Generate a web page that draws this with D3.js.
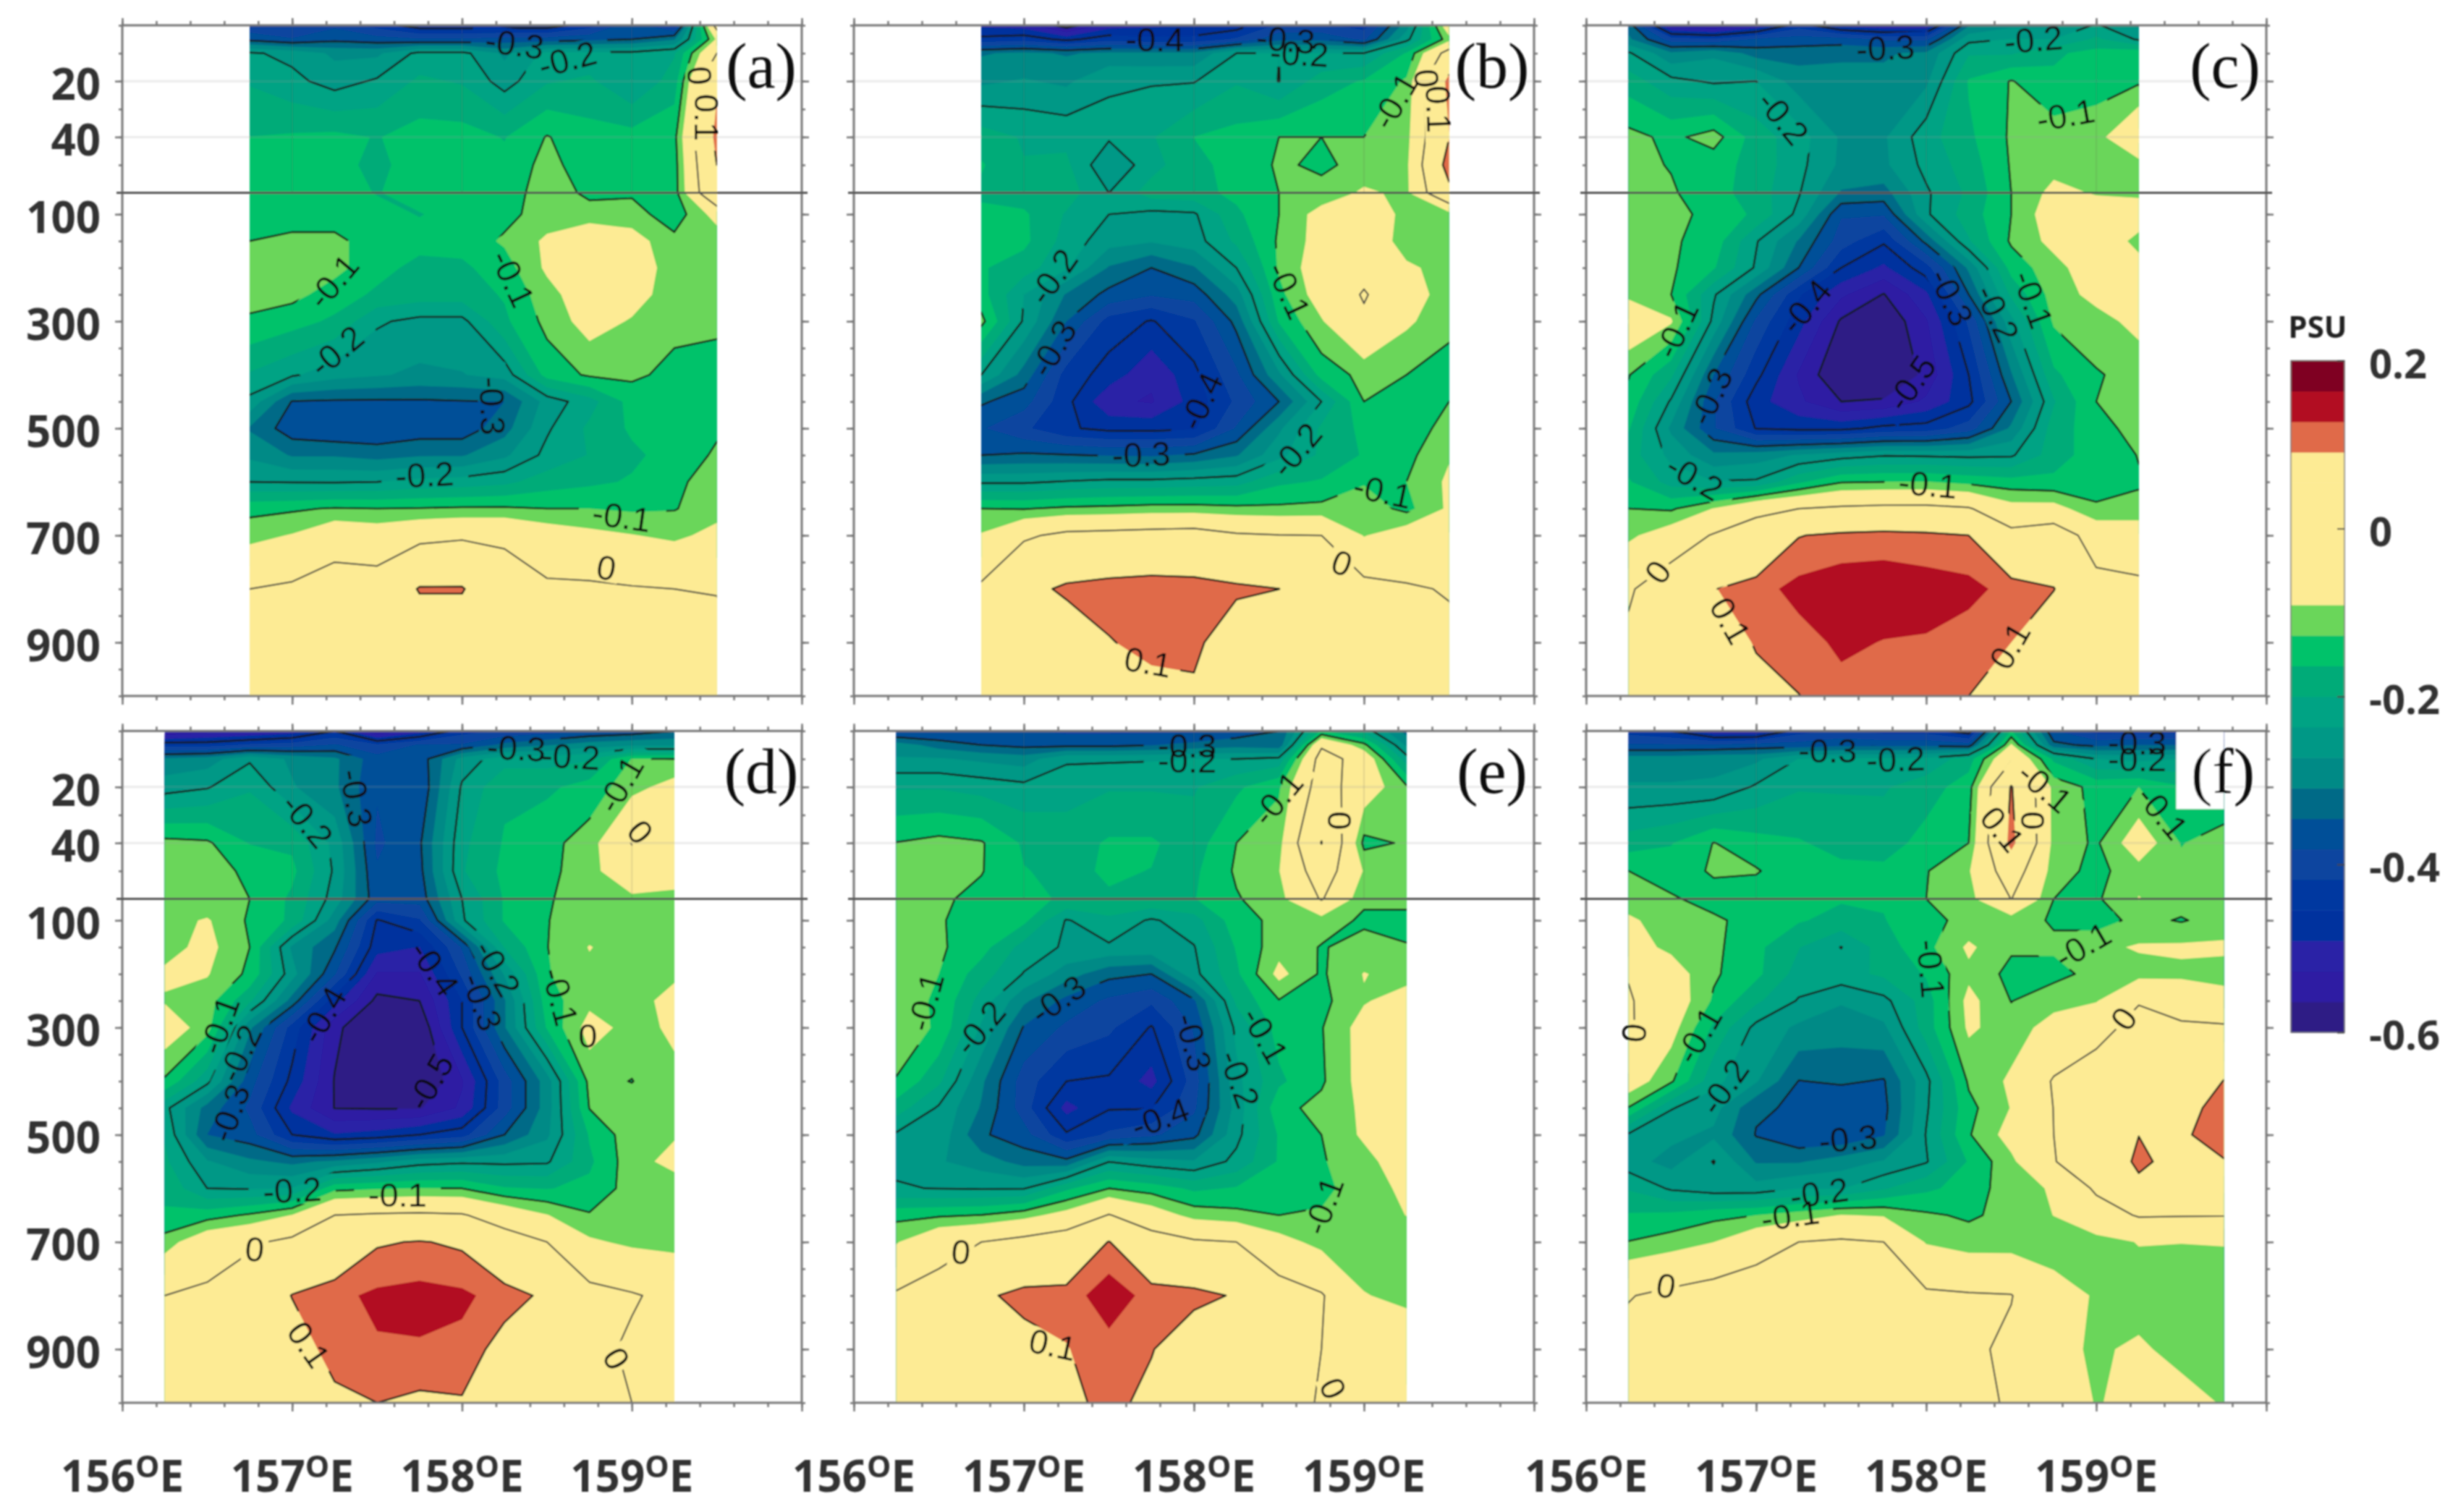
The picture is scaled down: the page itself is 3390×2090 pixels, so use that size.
<!DOCTYPE html>
<html>
<head>
<meta charset="utf-8">
<style>
  html, body { margin: 0; background: #fff; }
  svg { display: block; }
</style>
<script src="https://cdn.jsdelivr.net/npm/d3@7"></script>
</head>
<body>
<svg></svg>
<script>
// salinity anomaly in 0.01 PSU, one row per depth
var depths = [0, 5, 10, 20, 40, 50, 60, 100, 150, 200, 250, 300, 400, 450, 500, 550, 600, 650, 700, 800, 900, 1000];
var lonsAB = [156.75, 157, 157.25, 157.5, 157.75, 158, 158.25, 158.5, 158.75, 159, 159.25, 159.5];
var lonsCDE = [156.25, 156.5, 156.75, 157, 157.25, 157.5, 157.75, 158, 158.25, 158.5, 158.75, 159, 159.25];
var lonsF = [156.25, 156.5, 156.75, 157, 157.25, 157.5, 157.75, 158, 158.25, 158.5, 158.75, 159, 159.25, 159.5, 159.75];

var panelA = [
  [-36,-37,-34,-38,-42,-42,-42,-42,-38,-31,-38,3],
  [-31,-33,-31,-32,-33,-33,-32,-32,-31,-30,-27,-6],
  [-19.5,-21,-24,-24,-19,-19,-24,-19,-19,-19,-17,0],
  [-17,-19,-21.5,-19.5,-16,-17,-21.5,-17,-16,-20,-15,9],
  [-13.3,-12.9,-12.5,-13.5,-12,-12,-13.5,-9.8,-12,-12,-11,12],
  [-13,-12.8,-12.5,-14,-12,-12,-12.5,-8.8,-12,-12,-11.5,10],
  [-12,-12.5,-12,-13.5,-12,-12,-12,-8,-10.8,-10.5,-11.5,8],
  [-11.5,-12,-12,-12.2,-13.5,-12,-11,-8.5,-8.5,-8.5,-12,-5],
  [-10,-9,-9,-12,-12,-12,-9.5,-6,-3,-5,-9,-9],
  [-8.5,-8.5,-9,-12,-14.5,-14,-11.5,-6,-3,-4,-8.5,-8.5],
  [-8.8,-9,-11.5,-14,-15,-15,-13,-8,-4,-5,-8.5,-8.5],
  [-10.5,-12,-14,-19.5,-21,-21,-14,-9,-5,-7,-9,-9],
  [-17,-19.5,-22,-23,-24,-23.5,-22,-12,-9.5,-9.3,-11,-12],
  [-21,-30.2,-30.5,-30.5,-30.5,-30.2,-30,-22,-18,-12,-12,-12],
  [-27,-32,-33,-33,-32,-32,-28,-20.5,-16,-12.8,-12,-10.5],
  [-24,-27,-27,-28,-27,-27,-24,-19,-16.5,-14,-12,-9.5],
  [-20,-20.2,-20.3,-20,-19,-18.5,-17.5,-15,-14,-13,-10.7,-8.5],
  [-11,-10.5,-9.7,-10,-9.8,-9.5,-9.5,-10,-10,-10.5,-10.2,-8],
  [-8,-6.4,-3,-4,-2,-1,-1,-4,-5.5,-6.5,-7.5,-5.5],
  [0,1,3,3,10.5,10.5,3,1,1,0.4,0,-0.3],
  [2,3,4,4,5,5,4,3,3,3,2,2],
  [3,3,3,3,3,3,3,3,3,3,3,3]
];
var panelB = [
  [-44,-45,-52,-45,-44,-43,-42,-36,-36,-38,-25,-3],
  [-39,-38,-41,-38,-39,-39,-36,-31,-31,-34,-21,-8],
  [-27,-26,-27,-26,-26,-26,-20,-20,-20,-20,-13,3],
  [-24,-23,-24,-20.2,-20.3,-20.2,-17,-20.1,-15,-13,-9.5,12],
  [-15,-17,-17.5,-19.5,-17,-13.3,-12.2,-10,-10,-10,-8,9.8],
  [-13,-16.5,-16,-23,-18,-14,-12.5,-9.5,-10.6,-9,-7.5,13],
  [-14,-15,-15,-20,-15,-14.5,-12.5,-10,-9,-6,-7.5,8],
  [-12.5,-12.8,-17,-20,-21,-20.5,-14,-10,-5,-3,-8,-8.5],
  [-12,-12.5,-18,-22,-23,-21.5,-16,-9.5,-5,-3,-8.5,-8.5],
  [-13,-15,-19.5,-27,-30,-27,-20,-9.5,-4,-2,-6,-8],
  [-12,-20,-27,-31,-33,-32,-25,-11,-4.5,0.5,-4.5,-8.5],
  [-9,-20.5,-30,-38,-40.3,-37,-29,-13,-7,-1,-6,-9],
  [-20,-28,-38,-41.5,-46,-41,-34,-24,-12,-9,-10,-11.5],
  [-29.5,-32,-39,-46,-47,-42,-36,-30,-20,-10,-12,-10],
  [-33,-36,-39.5,-41,-41,-40.5,-33,-24,-16,-12.5,-11.5,-9],
  [-30,-29.5,-29.8,-30.3,-30.5,-29.5,-27,-21,-16,-13,-11,-7],
  [-20.5,-20.5,-19.7,-19,-19,-18.5,-18,-14,-13,-10.3,-10,-6],
  [-10,-10.2,-9.3,-9,-8.5,-8.5,-9,-9.3,-9,-8,-11,-6],
  [-6.3,-1,1.5,2,2.5,3,0.8,0.2,0,-6.9,-4,-3],
  [1,8,11,12,12.5,12,11,10.05,5,2,0.5,-0.3],
  [2,3,6,9.7,11.5,11.3,6,3,2,2,1,1],
  [3,3,4,5,8,9,5,3,3,3,2,2]
];
var panelC = [
  [-28,-48,-50,-46,-38,-44,-46,-46,-27,-24,-24,-19.5,-24],
  [-26,-35,-36,-33,-32,-32,-34,-34,-21,-19.9,-20,-16,-20.5],
  [-19.5,-26,-24,-28,-28,-27,-27,-26,-17,-17,-14,-12,-11],
  [-15,-19,-20.5,-20,-25,-26,-26,-24,-13,-9.8,-12.5,-11.5,-10.5],
  [-9,-10.8,-8.5,-15,-18.5,-23.8,-23.8,-18,-14,-9.5,-8.5,-8,-2],
  [-9,-10.2,-12,-14.5,-19,-24,-24,-19,-15,-9.7,-8,-8,-8],
  [-8,-9.6,-12,-15,-19.7,-27,-28,-20.5,-16,-10,-5.5,-7,-7.5],
  [-8,-9,-11,-14,-21,-33,-33,-20.5,-15,-10,-4,-4,-4],
  [-8,-9.5,-11.5,-19.7,-27,-35,-39.5,-29,-17,-9.5,-5.5,-3,-8],
  [-7.7,-9.5,-13,-20.5,-30,-40,-44,-38,-26,-12,-8,-4,-5],
  [-7.5,-10,-19.5,-29,-39.5,-46,-50.2,-44,-30,-16,-8.5,-5.5,-5],
  [-3,-6.2,-21,-34,-42,-50.5,-53,-47,-36,-21,-9.5,-8,-5.5],
  [-9.8,-16,-30,-39,-47,-53.5,-54,-49,-40,-27,-14,-10.3,-8.8],
  [-11,-20.5,-33,-42,-46,-50,-49.5,-46,-41,-30,-17,-10,-8.5],
  [-13,-24,-33,-40.2,-41,-41,-39,-38.5,-35,-26,-15,-11.5,-8.5],
  [-15,-21,-26,-25,-23,-21.5,-20.3,-20.5,-20.8,-20.5,-15,-11.5,-9.9],
  [-13,-18,-19.8,-19.5,-14,-10.3,-10,-9.9,-11,-12,-12.5,-11.5,-10.2],
  [-10,-10.5,-6.5,-1.5,0,1,1.5,1.5,0.5,-5,-5,-9.5,-9.5],
  [-7.5,-4,0.5,3,9.8,11,11.5,11,10,2,4,-3,-3],
  [-0.7,4,9.8,12,14.5,15.5,15.5,15,14.5,12,10.2,2,1],
  [1,3,6,10.5,12,14,13.2,13,11.5,10,5,3,2],
  [2,3,5,8,9.9,12.2,11.5,11,10,6,4,3,2]
];
var panelD = [
  [-50,-48,-47,-45,-40,-50,-45,-38,-36,-35,-33,-32,-30],
  [-38,-38,-36,-35,-33,-36,-33,-33,-29,-27,-25,-24,-24],
  [-26,-25,-20.5,-24,-26,-32,-32,-22,-18,-18,-17,-9.9,-10],
  [-21.5,-20.3,-17,-23,-26,-33,-33,-19.5,-14,-14,-12,-8,-5],
  [-9,-9.5,-13.5,-14,-21,-34,-30.5,-17.5,-13,-11,-8.5,0.2,-6],
  [-8.5,-9,-10.5,-12.5,-20.5,-33,-31,-17,-12.5,-11,-8,-3,-6],
  [-8.5,-9.3,-10,-14,-21.5,-32,-32,-20,-13,-10.3,-8.5,-7.5,-7],
  [-8,-6.3,-10.5,-14,-25,-40.3,-37,-20.5,-13,-10.1,-8.5,-8,-8],
  [-8,-5.5,-10,-24,-29.5,-42,-43.4,-33,-16.5,-10.1,-6.5,-8.5,-8.5],
  [-6,-6.4,-10.8,-22,-33,-47,-47,-36,-23,-10.3,-7.5,-8.5,-7.5],
  [-7,-8.5,-16,-28,-42,-51,-50,-40,-27,-11.5,-7.7,-8.5,-5],
  [-4,-8.5,-26,-38,-49,-54,-53,-40,-27,-13,-5,-8,-6],
  [-10.5,-19,-32,-41,-50.2,-55,-54,-47,-35,-25,-9,-10.1,-7.5],
  [-19,-28,-34,-44,-50.1,-50.3,-50.3,-46,-35,-25,-9.9,-8.5,-7],
  [-17,-30,-32,-40,-43,-42,-40,-38,-30,-24,-13,-8,-7],
  [-16,-23,-26,-27.5,-26,-24,-21.5,-20.7,-20.8,-20.5,-14,-8,-5.5],
  [-14,-20,-20.3,-19.8,-11,-10.3,-9.9,-10,-13,-13.5,-12.5,-8.5,-8.5],
  [-13,-11.5,-9.5,-6.5,0,0.7,1,0.5,-3,-6.5,-9.7,-9.7,-8.5],
  [-8.5,-3,-1,1.5,4,9.5,10.3,9.2,3,0,-6,-7.5,-8],
  [0,1,4,10.2,12.5,14,14.5,14,12,9,2,0.5,-1.5],
  [1,2,3,7,12,13,13,12.5,8,4,1.5,-0.8,-2],
  [2,2,3,4,8.7,10,9.1,9.6,5,3,1,0,-2]
];
var panelE = [
  [-34,-34,-33,-33,-34,-34,-34,-34,-32,-30,-13,-18,-28],
  [-25,-28,-30,-31,-31,-31,-30.2,-29,-28,-29,-1,-9,-24],
  [-23,-23,-24,-25,-20.5,-20.5,-20.3,-20,-20,-19,3,-3,-18.5],
  [-17,-17,-18,-19,-18,-17,-17,-17,-14,-10.5,3.5,-4,-9.5],
  [-9.9,-9,-9.7,-13.8,-15,-12.9,-12.9,-15,-10,-8,10.2,-11,-9.6],
  [-9.6,-9,-9.8,-13.2,-14,-13,-13.4,-14,-9.5,-6.8,4,-7,-9],
  [-9.5,-9.4,-11,-13,-13.5,-13.6,-13.6,-13.5,-10.3,-8,0.5,-9.5,-9.5],
  [-9,-9.7,-11.5,-12.5,-20.3,-17.5,-20.5,-18,-11.5,-9,-8.5,-10.5,-10.5],
  [-7,-9.5,-12,-18,-20.5,-20.5,-20.7,-20.2,-13,-8,-10.2,-9,-9.9],
  [-8.5,-10,-15,-20.2,-25,-29,-30,-21,-14,-5.5,-10.5,-6.5,-8],
  [-8.5,-10.5,-18,-26,-31,-34,-36,-30.5,-16,-10.2,-11,-7,-5],
  [-8,-10.5,-20.5,-30.3,-34,-36,-40.3,-33,-19,-12,-10.2,-5,-4],
  [-10.2,-16,-26,-35,-40,-40.5,-44.5,-35,-21,-14,-10.5,-5,-4],
  [-15,-20.5,-27,-35,-44.5,-40.3,-40.2,-34,-22,-11,-9,-6,-5],
  [-20.5,-21,-29.5,-32,-39.5,-36,-34,-31,-21,-13,-10,-6,-4.5],
  [-20.5,-23,-25,-28,-29,-20.1,-22,-23,-19,-13,-10.3,-8,-4],
  [-19.8,-20.1,-20.3,-20.2,-14,-10,-11.5,-14,-13,-12,-10.5,-9,-5.5],
  [-11,-10.5,-9.9,-8,-5,0.3,-4,-8,-9,-10,-9.8,-8.5,-6.6],
  [-7,-2,0,2,4,10.2,3,0.8,0,-5,-8,-8.5,-8.5],
  [0.7,2,9,11.5,11.5,15.5,12,11.5,9.5,3,0.5,-6.5,-7.5],
  [1,2,4,8,9.8,12,10.3,6,3,1.5,0,-3,-4],
  [1,2,3,4,8.5,11.5,8.5,4,2,0.5,-0.1,-3,-3]
];
var panelF = [
  [-38,-40,-46,-46,-38,-36,-38,-38,-42,-13,-33,-38,-38,-38,-38],
  [-33,-33,-33,-32,-32,-31,-31,-31,-32,-6,-29,-31,-30,-30,-30],
  [-25,-25,-24,-24,-19.9,-19.5,-19.5,-19,-15,-1,-14,-20,-21,-20,-22],
  [-23,-23,-23,-19.5,-17,-17,-17,-15,-11.5,10.5,-8,-11,-10,-13,-14],
  [-15,-13.5,-9.9,-12,-13,-14.5,-15,-12,-10,12,-8,-10.5,-4,-10.2,-8],
  [-10,-12,-9.5,-9.7,-12.3,-12.5,-12.5,-10.2,-7,4,-8.5,-11,-8,-9,-8],
  [-8.5,-9.5,-11.5,-12,-12.2,-13,-13,-10,-8,0.1,-10,-10.5,-6.5,-8.5,-8.5],
  [-6,-8.5,-9.3,-11.5,-13,-14.5,-13.5,-11,-9,-8.8,-10.3,-11.5,-9,-10.3,-8.5],
  [-5,-7.5,-9.2,-12.5,-16.5,-20.1,-15,-11,-6,-9.5,-9.5,-7.5,-6.3,-6,-6],
  [-0.3,-4.5,-9.5,-12.5,-18,-18,-16,-13,-7.5,-11,-11,-9,-8,-7.5,-8],
  [0.5,-3.5,-10.5,-16,-20.3,-23,-21,-15,-5.5,-10.1,-8,-7,-0.2,-3,-5],
  [0.8,-5,-14,-21,-24,-25,-24,-15,-6,-8.5,-5,-1,1,1,0.8],
  [-4,-9.5,-19,-23,-30.1,-29.5,-30.3,-21,-9.5,-6,0.5,1.5,2,3,10.2],
  [-10.2,-19.8,-22,-29.5,-30.5,-33,-31,-20.5,-11,-6.5,0.1,2,3,8,12],
  [-20.5,-22.5,-24,-30.2,-33,-33,-30.3,-19.8,-10.3,-5,0,2,9.9,9.5,11.5],
  [-22,-24.5,-19.8,-27,-27,-25,-23,-20.3,-13,-7.5,-0.2,3,11.5,7,9.8],
  [-17,-20.5,-22,-22,-20,-20.2,-17,-14,-12,-8,-6.3,1,8,4,4],
  [-13,-12.5,-11,-10,-8.5,-6.5,-7,-9.5,-10.5,-9,-6.6,-3,0.5,0.3,0.2],
  [-9.9,-8.5,-6.7,-3,0,0.8,0,-7,-8.5,-8.5,-8.5,-8,-6.5,-6.6,-6.5],
  [-0.3,1.5,3,4,4,4,3,1,0.5,0.2,-5,-7,-8.5,-8.5,-8.5],
  [2,3,3,3,3,3,3,3,1,-1,-5.5,-7.2,-6,-8,-7.8],
  [3,3,3,3,3,3,3,3,0.8,-0.3,-2,-7,-5,-5,-7]
];

// contour labels: text, lon, depth, angle
var labelsA = [["-0.3",158.31,6.5,8],["-0.2",158.62,12,-15],["0",159.40,18,85],["0.1",159.44,33,90],["-0.1",157.24,225,-50],["-0.1",158.3,220,65],["-0.2",157.26,355,-40],["-0.3",158.18,458,88],["-0.2",157.78,586,-3],["-0.1",158.94,664,8],["0",158.85,760,10]];
var labelsB = [["-0.4",157.77,5,0],["-0.3",158.54,5,5],["-0.2",158.62,10,3],["-0.1",159.18,27,-60],["0",159.37,19,85],["0.1",159.44,30,88],["-0.2",157.17,216,-55],["-0.3",157.17,350,-60],["-0.1",158.56,242,65],["-0.4",158.04,449,-65],["-0.3",157.69,548,-2],["-0.2",158.6,540,-50],["-0.1",159.11,617,12],["0",158.87,751,20],["0.1",157.73,936,10]];
var labelsC = [["-0.3",157.76,8,-3],["-0.2",158.63,5,-5],["-0.2",157.16,33,50],["-0.1",158.82,32,-10],["-0.1",156.53,315,-65],["-0.3",156.73,440,-65],["-0.4",157.29,272,-50],["-0.3",158.15,255,65],["-0.2",158.42,285,65],["-0.1",158.63,259,70],["-0.5",157.91,415,-55],["-0.2",156.64,591,30],["-0.1",158.01,604,5],["0",156.42,768,-55],["0.1",156.85,859,60],["0.1",158.49,906,-60]];
var labelsD = [["-0.3",158.32,6,3],["-0.2",158.64,9,3],["-0.1",158.93,19,-60],["-0.3",157.38,24,80],["-0.2",157.09,32,50],["0",159.05,36,50],["-0.4",157.18,276,-60],["-0.4",157.84,189,55],["-0.2",158.21,189,60],["-0.3",158.12,252,70],["-0.1",158.58,242,75],["-0.1",156.57,295,-70],["-0.2",156.69,348,-65],["-0.3",156.63,459,-70],["-0.5",157.81,401,-60],["0",158.74,314,0],["-0.2",157.0,603,-3],["-0.1",157.62,612,0],["0",156.78,713,5],["0.1",157.1,891,55],["0",158.91,917,60]];
var labelsE = [["-0.3",157.96,5,0],["-0.2",157.96,10.5,0],["-0.1",158.49,24,-50],["0",158.86,32,90],["-0.1",156.42,252,-75],["-0.2",156.74,300,-50],["-0.3",157.2,247,-35],["-0.3",158.0,327,75],["-0.2",158.27,396,70],["-0.1",158.42,314,60],["-0.4",157.8,468,-20],["-0.1",158.76,632,-70],["0",156.63,718,5],["0.1",157.17,891,12],["0",158.82,973,65]];
var labelsF = [["-0.3",157.42,7,0],["-0.2",157.82,10,-2],["-0.3",159.24,4,0],["-0.2",159.24,10,0],["-0.1",158.7,20,40],["0",158.63,32,90],["0.1",158.45,35,50],["-0.1",159.39,29,50],["-0.1",158.03,190,85],["-0.1",158.92,146,-30],["-0.1",156.66,314,-60],["0",156.28,310,-85],["-0.2",156.81,410,-55],["0",159.16,283,-55],["-0.3",157.54,507,-5],["-0.2",157.37,608,-8],["-0.1",157.2,650,-8],["0",156.47,781,10]];

var lonTicks = [156, 157, 158, 159];
var depthLabels = [20, 40, 100, 300, 500, 700, 900];
var lineLevels = [-50, -40, -30, -20, -10, 0, 10];
var barLabels = [0.2, 0, -0.2, -0.4, -0.6];

// 22 colours, lowest band first
var bandColors = ["#2e1a85","#2d1ca3","#2a20a6","#04309e","#0539a0","#0a459f","#005098","#006b87","#008a86","#009886","#00a384","#00ab78","#00c26b","#6ad65a","#fdeb94","#fdeb94","#fdeb94","#fdeb94","#fdeb94","#e06a48","#b20f24","#7f0020"];
var bandLevels = d3.range(1, 22).map(function(i) { return -50 + (i - 1) * 10 / 3; });

var topRow = [35, 266.6, 962];
var botRow = [1010.4, 1242.6, 1939];
var panels = [
  { name: "a", values: panelA, lons: lonsAB,  labels: labelsA, left: 169,  right: 1108, rows: topRow, yLabels: true,  tagX: 1052, tagY: 93 },
  { name: "b", values: panelB, lons: lonsAB,  labels: labelsB, left: 1180, right: 2120, rows: topRow, yLabels: false, tagX: 2062, tagY: 93 },
  { name: "c", values: panelC, lons: lonsCDE, labels: labelsC, left: 2192, right: 3132, rows: topRow, yLabels: false, tagX: 3075, tagY: 93 },
  { name: "d", values: panelD, lons: lonsCDE, labels: labelsD, left: 169,  right: 1108, rows: botRow, yLabels: true,  tagX: 1052, tagY: 1068 },
  { name: "e", values: panelE, lons: lonsCDE, labels: labelsE, left: 1180, right: 2120, rows: botRow, yLabels: false, tagX: 2062, tagY: 1068 },
  { name: "f", values: panelF, lons: lonsF,   labels: labelsF, left: 2192, right: 3132, rows: botRow, yLabels: false, tagX: 3072, tagY: 1068, whiteBox: true }
];

var svg = d3.select("svg").attr("width", 3390).attr("height", 2090);
var defs = svg.append("defs");
defs.append("filter").attr("id", "soft")
    .attr("filterUnits", "userSpaceOnUse")
    .attr("x", 0).attr("y", 0).attr("width", 3390).attr("height", 2090)
  .append("feGaussianBlur").attr("stdDeviation", 0.9);

var root = svg.append("g").attr("filter", "url(#soft)");
var bold = "'Open Sans', sans-serif";

panels.forEach(drawPanel);
drawColorbar();

function drawPanel(p) {
  var x = d3.scaleLinear().domain([156, 160]).range([p.left, p.right]);
  var y = d3.scaleLinear().domain([0, 60, 1000]).range(p.rows);
  var nx = p.lons.length, ny = depths.length;
  var colToLon = d3.scaleLinear().domain(d3.range(nx)).range(p.lons);
  var rowToDepth = d3.scaleLinear().domain(d3.range(ny)).range(depths);
  var g = root.append("g");
  var flat = d3.merge(p.values);

  // contour cells sit half a step off the grid
  var path = d3.geoPath(d3.geoTransform({
    point: function(cx, cy) {
      this.stream.point(x(colToLon(cx - 0.5)), y(rowToDepth(cy - 0.5)));
    }
  }));

  var x0 = x(p.lons[0]), x1 = x(p.lons[nx - 1]);
  var clipId = "clip-" + p.name;
  defs.append("clipPath").attr("id", clipId).append("rect")
      .attr("x", x0).attr("y", y(0)).attr("width", x1 - x0).attr("height", y(1000) - y(0));

  var mask = defs.append("mask").attr("id", "gap-" + p.name)
      .attr("maskUnits", "userSpaceOnUse")
      .attr("x", 0).attr("y", 0).attr("width", 3390).attr("height", 2090);
  mask.append("rect").attr("width", 3390).attr("height", 2090).attr("fill", "#fff");
  mask.selectAll("rect.hole").data(p.labels).enter().append("rect")
      .attr("class", "hole")
      .attr("x", function(d) { return -d[0].length * 14 - 4; })
      .attr("y", -20)
      .attr("width", function(d) { return d[0].length * 28 + 8; })
      .attr("height", 40)
      .attr("fill", "#000")
      .attr("transform", function(d) { return "translate(" + x(d[1]) + "," + y(d[2]) + ") rotate(" + d[3] + ")"; });

  var field = g.append("g").attr("clip-path", "url(#" + clipId + ")");
  field.append("rect")
      .attr("x", x0).attr("y", y(0)).attr("width", x1 - x0).attr("height", y(1000) - y(0))
      .attr("fill", bandColors[0]);

  var bands = d3.contours().size([nx, ny]).thresholds(bandLevels)(flat);
  field.selectAll("path.band").data(bands).enter().append("path")
      .attr("class", "band")
      .attr("d", path)
      .attr("fill", function(d, i) { return bandColors[i + 1]; });

  var lines = d3.contours().size([nx, ny]).thresholds(lineLevels)(flat);
  field.append("g").attr("mask", "url(#gap-" + p.name + ")")
    .selectAll("path.level").data(lines).enter().append("path")
      .attr("class", "level")
      .attr("d", path)
      .attr("fill", "none")
      .attr("stroke", function(d) { return d.value === 0 ? "#4a4a44" : "#141a18"; })
      .attr("stroke-width", function(d) { return d.value === 0 ? 2.2 : 2.6; })
      .attr("stroke-linejoin", "round");

  // faint grid
  g.selectAll("line.gy").data([20, 40]).enter().append("line")
      .attr("x1", p.left).attr("x2", p.right)
      .attr("y1", function(d) { return y(d); }).attr("y2", function(d) { return y(d); })
      .attr("stroke", "#999").attr("stroke-opacity", 0.2).attr("stroke-width", 3);
  g.selectAll("line.gx").data(lonTicks.slice(1)).enter().append("line")
      .attr("x1", function(d) { return x(d); }).attr("x2", function(d) { return x(d); })
      .attr("y1", y(0)).attr("y2", y(60))
      .attr("stroke", "#555").attr("stroke-opacity", 0.16).attr("stroke-width", 2);

  g.selectAll("text.clabel").data(p.labels).enter().append("text")
      .attr("class", "clabel")
      .attr("transform", function(d) { return "translate(" + x(d[1]) + "," + y(d[2]) + ") rotate(" + d[3] + ")"; })
      .attr("text-anchor", "middle")
      .attr("dy", "0.36em")
      .attr("font-family", "'Liberation Sans', sans-serif")
      .attr("font-size", 47)
      .attr("fill", "#111")
      .text(function(d) { return d[0]; });

  if (p.whiteBox) {
    g.append("rect").attr("x", x(159.47)).attr("y", y(0)).attr("width", x1 - x(159.47)).attr("height", 108).attr("fill", "#fff");
  }

  drawFrame(g, p, x, y);

  g.append("text")
      .attr("x", p.tagX).attr("y", p.tagY)
      .attr("text-anchor", "middle").attr("dy", "0.32em")
      .attr("font-family", "'Liberation Serif', serif")
      .attr("font-size", 88)
      .attr("fill", "#111")
      .text("(" + p.name + ")");
}

function drawFrame(g, p, x, y) {
  var xMinor = d3.range(156, 160.01, 0.2);
  var yMinor = d3.range(0, 60, 10).concat(d3.range(100, 1001, 50));
  var yMajor = depthLabels;
  var h = y(1000);
  var frame = g.append("g").attr("class", "frame");

  function tickStyle(sel) {
    sel.select(".domain").remove();
    sel.selectAll("line").attr("stroke", "#777").attr("stroke-width", 2.5);
  }

  frame.append("g").attr("transform", "translate(0," + h + ")")
      .call(d3.axisBottom(x).tickValues(xMinor).tickSize(6).tickFormat("")).call(tickStyle);
  frame.append("g").attr("transform", "translate(0," + h + ")")
      .call(d3.axisBottom(x).tickValues(lonTicks.concat(160)).tickSize(12).tickFormat("")).call(tickStyle);
  frame.append("g").attr("transform", "translate(0," + y(0) + ")")
      .call(d3.axisTop(x).tickValues(xMinor).tickSize(6).tickFormat("")).call(tickStyle);
  frame.append("g").attr("transform", "translate(0," + y(0) + ")")
      .call(d3.axisTop(x).tickValues(lonTicks.concat(160)).tickSize(10).tickFormat("")).call(tickStyle);
  frame.append("g").attr("transform", "translate(" + p.left + ",0)")
      .call(d3.axisLeft(y).tickValues(yMinor).tickSize(5).tickFormat("")).call(tickStyle);
  frame.append("g").attr("transform", "translate(" + p.left + ",0)")
      .call(d3.axisLeft(y).tickValues(yMajor).tickSize(10).tickFormat("")).call(tickStyle);
  frame.append("g").attr("transform", "translate(" + p.right + ",0)")
      .call(d3.axisRight(y).tickValues(yMinor).tickSize(5).tickFormat("")).call(tickStyle);
  frame.append("g").attr("transform", "translate(" + p.right + ",0)")
      .call(d3.axisRight(y).tickValues(yMajor).tickSize(10).tickFormat("")).call(tickStyle);

  frame.append("rect")
      .attr("x", p.left).attr("y", y(0))
      .attr("width", p.right - p.left).attr("height", y(1000) - y(0))
      .attr("fill", "none").attr("stroke", "#777").attr("stroke-width", 3);
  frame.append("line")
      .attr("x1", p.left - 8).attr("x2", p.right + 8)
      .attr("y1", y(60)).attr("y2", y(60))
      .attr("stroke", "#555").attr("stroke-width", 3);

  if (p.yLabels) {
    var labelAxis = frame.append("g").attr("transform", "translate(" + p.left + ",0)")
        .call(d3.axisLeft(y).tickValues(depthLabels).tickSize(0).tickPadding(30));
    labelAxis.select(".domain").remove();
    labelAxis.selectAll("text")
        .attr("font-family", bold).attr("font-weight", 700).attr("font-size", 60).attr("fill", "#333")
        .attr("dy", "0.42em");
  }

  if (p.rows === botRow) {
    var lonText = frame.selectAll("text.lon").data(lonTicks).enter().append("text")
        .attr("class", "lon")
        .attr("x", function(d) { return x(d); })
        .attr("y", 2062)
        .attr("text-anchor", "middle")
        .attr("font-family", bold).attr("font-weight", 700).attr("font-size", 60).attr("fill", "#333");
    lonText.append("tspan").text(function(d) { return d; });
    lonText.append("tspan").attr("dy", -20).attr("font-size", 42).text("O");
    lonText.append("tspan").attr("dy", 20).text("E");
  }
}

function drawColorbar() {
  var top = 498.5, bottom = 1427, left = 3166, right = 3240;
  var v = d3.scaleLinear().domain([-0.6, 0.2]).range([bottom, top]);
  var step = 0.8 / bandColors.length;
  var g = root.append("g");

  g.selectAll("rect.swatch").data(bandColors).enter().append("rect")
      .attr("class", "swatch")
      .attr("x", left)
      .attr("y", function(d, i) { return v(-0.6 + (i + 1) * step); })
      .attr("width", right - left)
      .attr("height", (bottom - top) / bandColors.length + 0.5)
      .attr("fill", function(d) { return d; });

  g.append("rect")
      .attr("x", left).attr("y", top).attr("width", right - left).attr("height", bottom - top)
      .attr("fill", "none").attr("stroke", "#777").attr("stroke-width", 1.5);

  var axis = g.append("g").attr("transform", "translate(" + right + ",0)")
      .call(d3.axisRight(v).tickValues(barLabels).tickSize(-10).tickPadding(34).tickFormat(function(d) { return d === 0 ? "0" : d3.format(".1f")(d).replace("\u2212", "-"); }));
  axis.select(".domain").remove();
  axis.selectAll("line").attr("stroke", "#444").attr("stroke-width", 2);
  axis.selectAll("text")
      .attr("font-family", bold).attr("font-weight", 700).attr("font-size", 56).attr("fill", "#333")
      .attr("dy", "0.42em");

  g.append("text")
      .attr("x", (left + right) / 2).attr("y", 452)
      .attr("dy", "0.36em").attr("text-anchor", "middle")
      .attr("font-family", bold).attr("font-weight", 700).attr("font-size", 42).attr("fill", "#222")
      .text("PSU");
}
</script>
</body>
</html>
